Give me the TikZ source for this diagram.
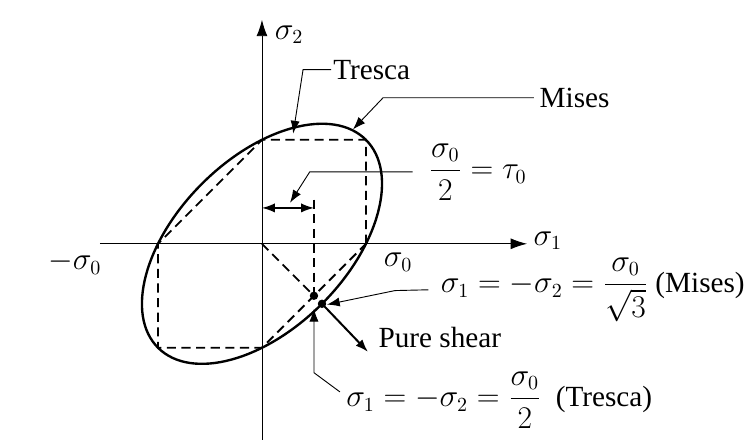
\documentclass[tikz,border=0pt]{standalone}
\usepackage{amsmath}
\usepackage{fontspec}
\setmainfont{Liberation Serif}
\usetikzlibrary{arrows.meta}
\begin{document}
\begin{tikzpicture}[>={Latex[length=7pt,width=5pt]}, font=\fontsize{16}{19}\selectfont,
    lbl/.style={inner sep=1pt, anchor=west},
    leader/.style={line width=0.5pt},
    yield/.style={line width=1pt, dash pattern=on 5pt off 3pt}]
        \useasboundingbox (-5.04,-3.79) rectangle (9.35,4.69);
        % Axes
        \coordinate (O) at (0,0);
        \coordinate (xl) at (-3.12,0);
        \coordinate (xr) at (5.1,0);
        \coordinate (yb) at (0,-3.77);
        \coordinate (yt) at (0,4.31);
        \draw[line width=0.5pt, -{Latex[length=9pt,width=6pt]}] (xl) -- (xr);
        \draw[line width=0.5pt, -{Latex[length=9pt,width=6pt]}] (yb) -- (yt);
        \node (s1) at (5.5,0.06) {$\sigma_1$};
        \node (s2) at (0.52,4.02) {$\sigma_2$};
        \node (ms0) at (-3.6,-0.37) {$-\sigma_0$};
        \node (ps0) at (2.62,-0.36) {$\sigma_0$};

        % Tresca hexagon
        \draw[yield] (2,0) -- (2,2) -- (0,2) -- (-2,0) -- (-2,-2) -- (0,-2) -- cycle;
        % Mises ellipse
        \draw[line width=1.3pt, rotate=45] (O) ellipse [x radius=2.828, y radius=1.633];

        % Pure shear points
        \coordinate (T) at (1,-1);
        \coordinate (M) at (1.1547,-1.1547);
        \coordinate (ttop) at (1,0.85);
        \draw[yield] (O) -- (T);
        \draw[yield] (ttop) -- (T);
        \fill (T) circle (2.3pt);
        \fill (M) circle (2.3pt);

        % tau_0 dimension
        \coordinate (d1) at (0,0.69);
        \coordinate (d2) at (1,0.69);
        \draw[line width=0.8pt, <->] (d1) -- (d2);

        % Pure shear arrow
        \coordinate (psend) at (2.04,-2.08);
        \draw[line width=1.1pt, ->] (M) -- (psend);
        \node[lbl] (pure) at (2.2,-1.8) {Pure shear};

        % Labels with leaders
        \node[lbl] (tresca) at (1.33,3.35) {Tresca};
        \coordinate (trtip) at (0.6,2.12);
        \draw[leader, ->] (tresca.west) -- (0.79,3.35) -- (trtip);

        \node[lbl] (mises) at (5.3,2.81) {Mises};
        \coordinate (mitip) at (1.75,2.2);
        \draw[leader, ->] ([xshift=-2pt]mises.west) -- (2.33,2.81) -- (mitip);

        \node[lbl] (tau) at (3.17,1.385) {$\dfrac{\sigma_0}{2}=\tau_0$};
        \coordinate (tatip) at (0.54,0.79);
        \draw[leader, ->] ([xshift=-0.27cm]tau.west) -- (0.92,1.385) -- (tatip);

        \node[lbl] (mform) at (3.4,-0.885) {$\sigma_1=-\sigma_2=\dfrac{\sigma_0}{\sqrt{3}}$ (Mises)};
        \coordinate (mftip) at (1.25,-1.17);
        \draw[leader, ->] ([xshift=-0.2cm]mform.west) -- (2.56,-0.9) -- (mftip);

        \node[lbl] (tform) at (1.58,-3.0) {$\sigma_1=-\sigma_2=\dfrac{\sigma_0}{2}$\ \ (Tresca)};
        \coordinate (tftip) at (1,-1.25);
        \draw[leader, ->] (1.5,-2.85) -- (1,-2.48) -- (tftip);
    \end{tikzpicture}
\end{document}
